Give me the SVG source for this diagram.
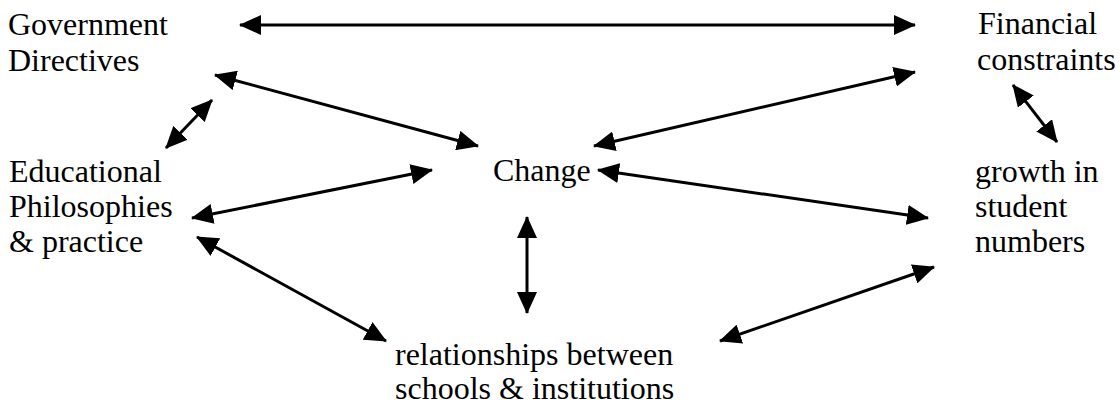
<svg xmlns="http://www.w3.org/2000/svg" width="1120" height="413" viewBox="0 0 1120 413">
<style>
text{font-family:"Liberation Serif","Times New Roman",serif;font-size:32px;fill:#000}
.c{stroke:#000;stroke-width:3;fill:none;marker-start:url(#ah);marker-end:url(#ah)}
</style>
<defs>
<marker id="ah" markerUnits="userSpaceOnUse" viewBox="0 0 22 20" markerWidth="22" markerHeight="20" refX="21" refY="10" orient="auto-start-reverse">
<path d="M0,0 L22,10 L0,20 z" fill="#000"/>
</marker>
</defs>
<rect width="1120" height="413" fill="#fff"/>
<g id="connectors">
<line class="c" x1="240" y1="25" x2="915" y2="25"/>
<line class="c" x1="215" y1="75" x2="478" y2="146"/>
<line class="c" x1="166" y1="148" x2="212" y2="100"/>
<line class="c" x1="192" y1="218" x2="432" y2="170"/>
<line class="c" x1="594" y1="146" x2="915" y2="72"/>
<line class="c" x1="1013" y1="85" x2="1057" y2="142"/>
<line class="c" x1="598" y1="170" x2="928" y2="218"/>
<line class="c" x1="527" y1="217" x2="527" y2="313"/>
<line class="c" x1="197" y1="237" x2="386" y2="341"/>
<line class="c" x1="720" y1="341" x2="934" y2="267"/>
</g>
<g id="government"><text x="8" y="35">Government</text><text x="8" y="71">Directives</text></g>
<g id="financial"><text x="978" y="34">Financial</text><text x="977" y="70">constraints</text></g>
<g id="educational"><text x="9" y="182">Educational</text><text x="9" y="217">Philosophies</text><text x="9" y="252">&amp; practice</text></g>
<g id="change"><text x="493" y="181">Change</text></g>
<g id="growth"><text x="975" y="182">growth in</text><text x="975" y="217">student</text><text x="975" y="252">numbers</text></g>
<g id="relationships"><text x="395" y="365">relationships between</text><text x="395" y="399">schools &amp; institutions</text></g>
</svg>
